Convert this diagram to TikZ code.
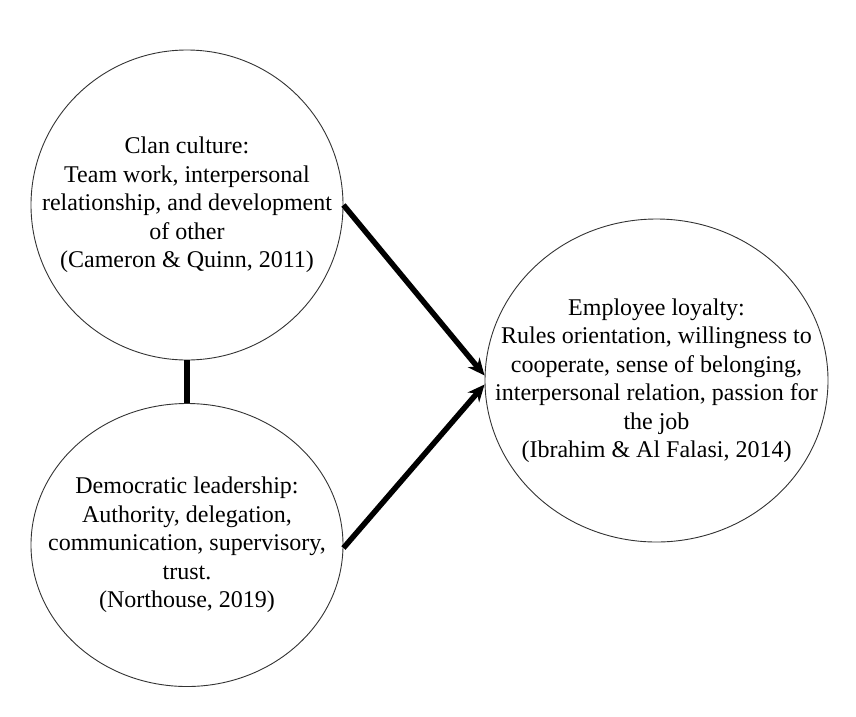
\documentclass[tikz,border=0pt]{standalone}
\usepackage{fontspec}
\setmainfont{Liberation Serif}
\usetikzlibrary{shapes.geometric,arrows.meta}
\begin{document}
\begin{tikzpicture}[x=1pt,y=-1pt,
  circ/.style={ellipse,draw=black!80,line width=0.9pt,inner sep=0pt},
  txt/.style={align=center,font=\fontsize{24}{28.5}\selectfont,inner sep=0pt},
  link/.style={line width=6pt},
  arr/.style={line width=5.5pt,-{Stealth[length=17pt,width=15pt]}}]
\useasboundingbox (0,0) rectangle (856,716);
\node[circ,minimum width=312pt,minimum height=310pt] (C) at (187,205) {};
\node[circ,minimum width=312pt,minimum height=283pt] (D) at (187,545) {};
\node[circ,minimum width=343pt,minimum height=323pt] (E) at (656.5,380.5) {};
\node[txt] (Ct) at (C) {Clan culture:\\Team work, interpersonal\\relationship, and development\\of other\\(Cameron \& Quinn, 2011)};
\node[txt] (Dt) at (D) {Democratic leadership:\\Authority, delegation,\\communication, supervisory,\\trust.\\(Northouse, 2019)};
\node[txt] (Et) at (E) {Employee loyalty:\\Rules orientation, willingness to\\cooperate, sense of belonging,\\interpersonal relation, passion for\\the job\\(Ibrahim \& Al Falasi, 2014)};
\draw[link] (C.south) -- (D.north);
\draw[arr] (C.east) -- ([yshift=5pt]E.west);
\draw[arr] ([yshift=-3pt]D.east) -- ([yshift=-4pt]E.west);
\end{tikzpicture}
\end{document}
